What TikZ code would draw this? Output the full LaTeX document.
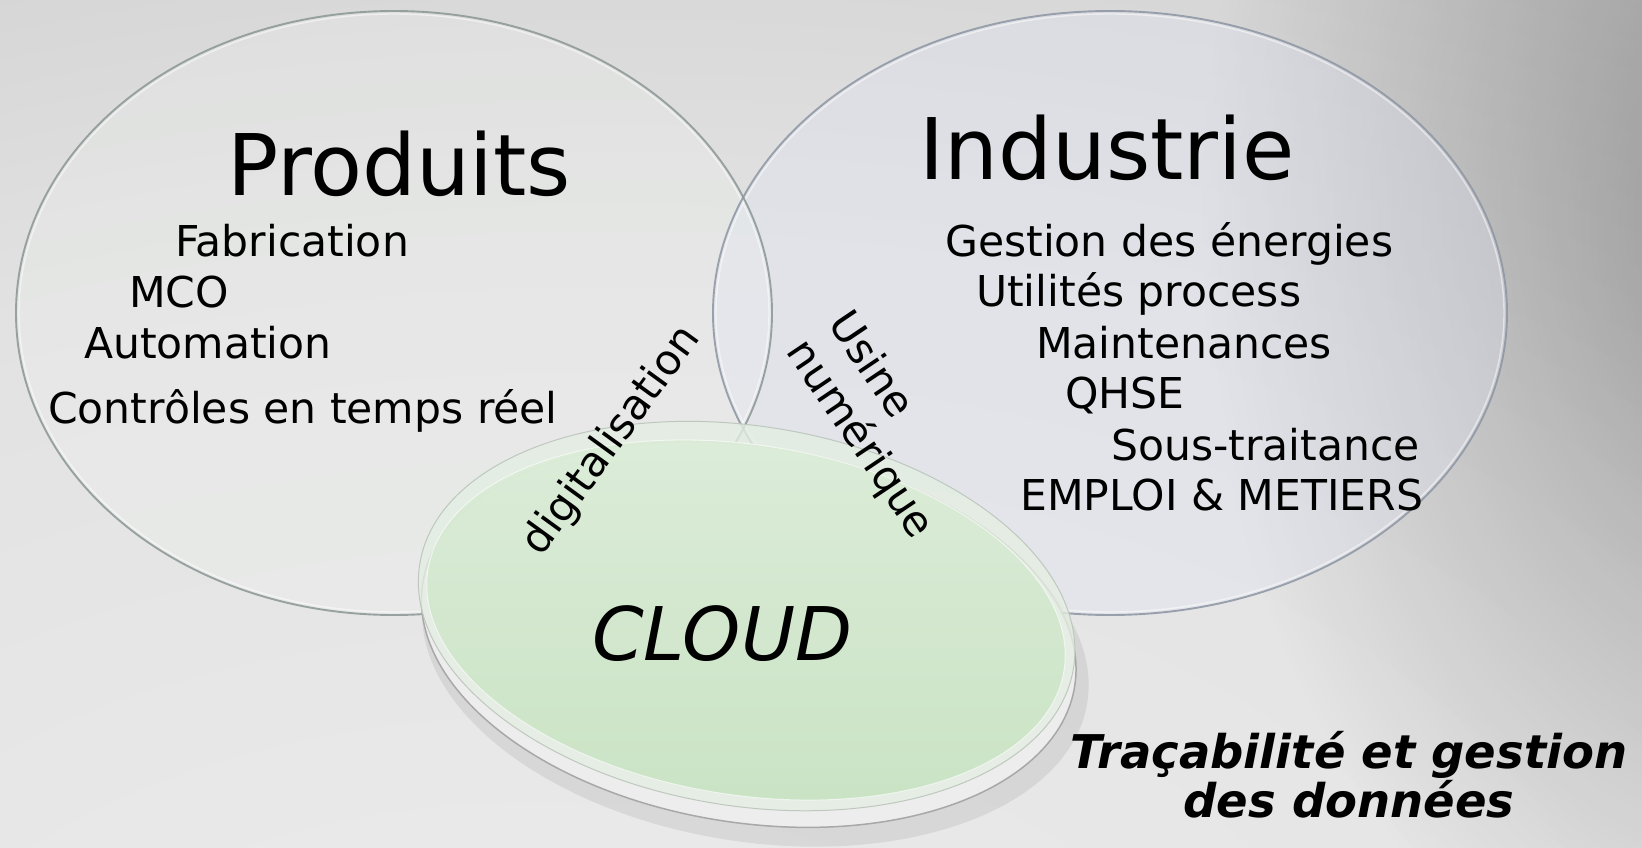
\documentclass[tikz,border=0pt]{standalone}
\usepackage{fontspec}
\setmainfont{DejaVu Sans}
\usetikzlibrary{fadings}
\definecolor{bgA}{HTML}{EDEDED}
\definecolor{bgB}{HTML}{E2E2E2}
\definecolor{bgC}{HTML}{D0D0D0}
\definecolor{bgD}{HTML}{C3C3C3}
\definecolor{bgE}{HTML}{B2B2B2}
\definecolor{leftfill}{HTML}{F2F8F2}
\definecolor{rightfill}{HTML}{E2E6F6}
\definecolor{leftline}{HTML}{8A9694}
\definecolor{rightline}{HTML}{8C95A3}
\definecolor{rimc}{HTML}{EDEDED}
\definecolor{rimline}{HTML}{A8A8A8}
\definecolor{bevelc}{HTML}{E4EEE2}
\definecolor{bevline}{HTML}{BFC8BF}
\definecolor{gTop}{HTML}{DCEDD8}
\definecolor{gBot}{HTML}{C6E2C0}
\tikzfading[name=softdot, inner color=transparent!0, outer color=transparent!100]
\pgfdeclareradialshading{bgshade}{\pgfpoint{-10bp}{-45bp}}{color(0bp)=(bgA); color(40bp)=(bgB); color(60bp)=(bgC); color(95bp)=(bgD); color(115bp)=(bgE)}
\begin{document}
\begin{tikzpicture}[x=1pt,y=-1pt,
  txt/.style={font=\fontsize{42.5}{51}\selectfont, inner sep=0pt, anchor=base west},
  bigtitle/.style={font=\fontsize{85}{100}\selectfont, inner sep=0pt, anchor=base west},
  slanted/.style={font=\fontsize{42}{50}\selectfont, inner sep=0pt, anchor=center},
  ringline/.style={line width=1.9pt, draw opacity=.85},
  glint/.style={draw=white, line width=1.4pt, draw opacity=.5}]
\useasboundingbox (0,0) rectangle (1642,848);
% background
\shade[shading=bgshade] (0,0) rectangle (1642,848);
\fill[black, opacity=.3, path fading=softdot] (1760,220) ellipse [x radius=560pt, y radius=820pt];
% Produits ellipse
\fill[leftfill, fill opacity=.22] (394,313) ellipse [x radius=378pt, y radius=302pt];
% Industrie ellipse
\fill[rightfill, fill opacity=.32] (1110,313) ellipse [x radius=397pt, y radius=302pt];
\draw[glint] (394,313) ellipse [x radius=375pt, y radius=299pt];
\draw[glint] (1110,313) ellipse [x radius=394pt, y radius=299pt];
\draw[leftline, ringline] (394,313) ellipse [x radius=378pt, y radius=302pt];
\draw[rightline, ringline] (1110,313) ellipse [x radius=397pt, y radius=302pt];
% CLOUD disc
\begin{scope}[rotate around={-9:(746,620)}]
  \fill[black, opacity=.07] (760,648) ellipse [x radius=336pt, y radius=192pt];
  \fill[rimc, draw=rimline, line width=1.5pt] (751,634) ellipse [x radius=330pt, y radius=188pt];
  \fill[bevelc, fill opacity=.8, draw=bevline, line width=1pt] (746,616) ellipse [x radius=331pt, y radius=190pt];
  \shade[top color=gTop, bottom color=gBot, opacity=.85] (746,620) ellipse [x radius=322pt, y radius=175pt];
  \draw[white, line width=1pt, opacity=.6] (746,620) ellipse [x radius=322pt, y radius=175pt];
\end{scope}
% texts
\node[bigtitle] (produits) at (227,196) {Produits};
\node[bigtitle] (industrie) at (919,179) {Industrie};
\node[txt] (fab) at (175,256) {Fabrication};
\node[txt] (mco) at (129,307) {MCO};
\node[txt] (auto) at (84,358) {Automation};
\node[txt] (ctrl) at (48,423) {Contrôles en temps réel};
\node[txt] (gest) at (945,256) {Gestion des énergies};
\node[txt] (util) at (976,306) {Utilités process};
\node[txt] (maint) at (1036,358) {Maintenances};
\node[txt] (qhse) at (1065,408) {QHSE};
\node[txt] (sous) at (1111,460) {Sous-traitance};
\node[txt] (emploi) at (1020,510) {EMPLOI \& METIERS};
\node[slanted, rotate=54] (digit) at (612,441) {digitalisation};
\node[slanted, rotate=-56, align=left] (usine) at (880,426) {Usine\\numérique};
\node[font=\fontsize{74}{88}\selectfont\itshape, inner sep=0pt, anchor=base west] (cloud) at (592,660) {CLOUD};
\node[font=\fontsize{46.5}{50}\selectfont\bfseries\itshape, inner sep=0pt, anchor=base] (trac1) at (1349,768) {Traçabilité et gestion};
\node[font=\fontsize{46.5}{50}\selectfont\bfseries\itshape, inner sep=0pt, anchor=base] (trac2) at (1349,817) {des données};
\end{tikzpicture}
\end{document}
